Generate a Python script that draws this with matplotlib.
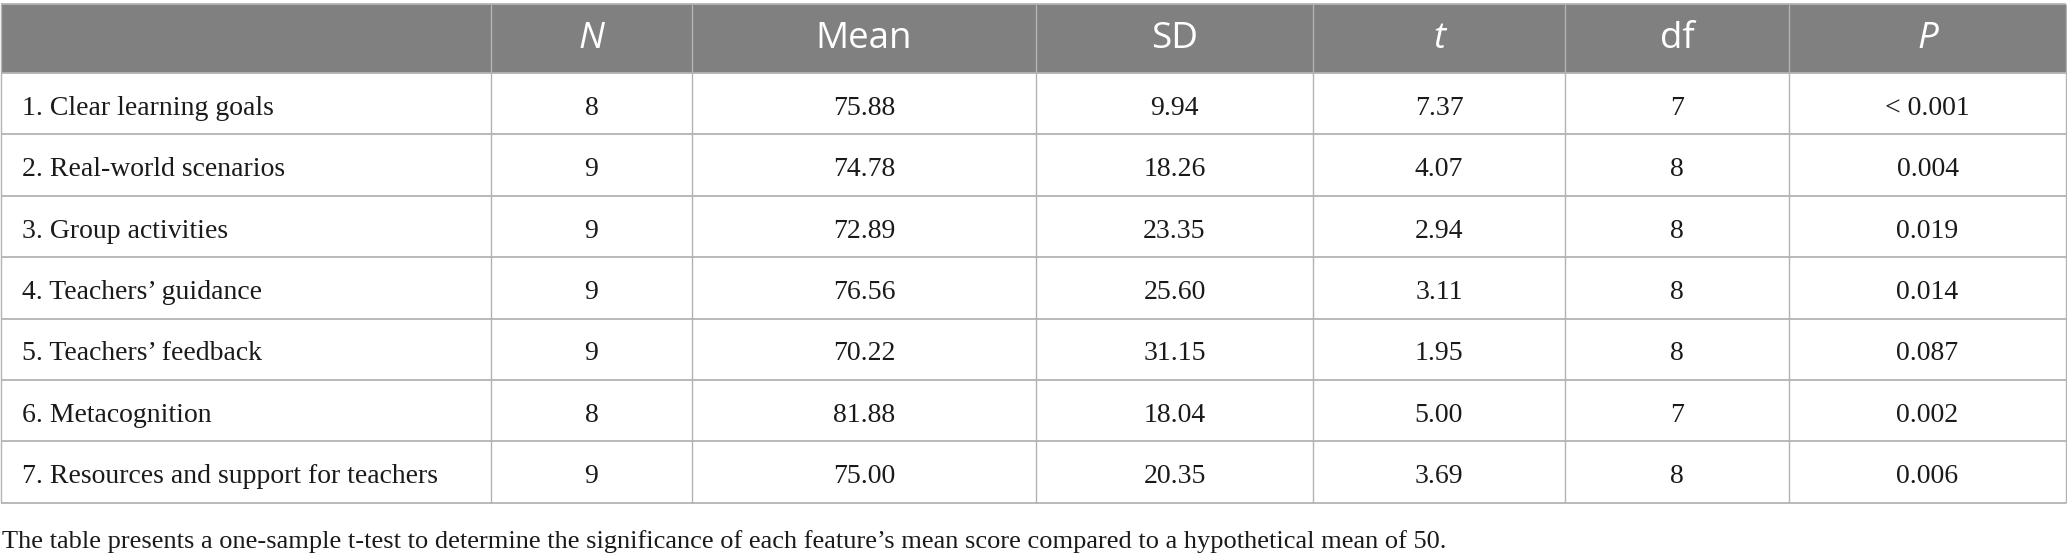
import matplotlib
matplotlib.use("Agg")
import matplotlib.pyplot as plt
from matplotlib.patches import Rectangle

# table content
headers = ["", "N", "Mean", "SD", "t", "df", "P"]
header_italic = [False, True, False, False, True, False, True]
features = [
    "1. Clear learning goals",
    "2. Real-world scenarios",
    "3. Group activities",
    "4. Teachers\u2019 guidance",
    "5. Teachers\u2019 feedback",
    "6. Metacognition",
    "7. Resources and support for teachers",
]
n_vals = [8, 9, 9, 9, 9, 8, 9]
means = [75.88, 74.78, 72.89, 76.56, 70.22, 81.88, 75.00]
sds = [9.94, 18.26, 23.35, 25.60, 31.15, 18.04, 20.35]
t_vals = [7.37, 4.07, 2.94, 3.11, 1.95, 5.00, 3.69]
dfs = [7, 8, 8, 8, 8, 7, 8]
p_vals = ["< 0.001", "0.004", "0.019", "0.014", "0.087", "0.002", "0.006"]
caption = ("The table presents a one-sample t-test to determine the significance "
           "of each feature\u2019s mean score compared to a hypothetical mean of 50.")

# layout in pixels
W, H = 2067, 555
col_edges = [1, 491, 692, 1036, 1313, 1565, 1789, 2066]
top = 4
header_h = 69
row_h = 61.4
header_bg = "#808080"
grid_c = "#b3b3b3"
body_font = "Liberation Serif"
head_font = "Open Sans"

fig = plt.figure(figsize=(W / 100, H / 100), dpi=100)
ax = fig.add_axes([0, 0, 1, 1])
ax.set_xlim(0, W)
ax.set_ylim(H, 0)
ax.axis("off")

n_rows = len(features)
row_edges = [top, top + header_h] + [top + header_h + row_h * (i + 1) for i in range(n_rows)]

# header band
ax.add_patch(Rectangle((col_edges[0], top), col_edges[-1] - col_edges[0], header_h,
                       facecolor=header_bg, edgecolor="none", zorder=1))

# grid lines
for y in row_edges:
    ax.plot([col_edges[0], col_edges[-1]], [y, y], color=grid_c, lw=1.3, zorder=3,
            solid_capstyle="butt")
for x in col_edges:
    ax.plot([x, x], [row_edges[0], row_edges[-1]], color=grid_c, lw=1.0, zorder=3,
            solid_capstyle="butt")

# header texts
hy = top + header_h / 2
for j, (h, it) in enumerate(zip(headers, header_italic)):
    if not h:
        continue
    cx = (col_edges[j] + col_edges[j + 1]) / 2
    ax.text(cx, hy, h, color="white", fontsize=26.5, family=[head_font, "DejaVu Sans"],
            style="italic" if it else "normal", ha="center", va="center", zorder=4)

# body rows
for i in range(n_rows):
    yc = (row_edges[i + 1] + row_edges[i + 2]) / 2
    yb = yc + 11
    cells = [features[i], str(n_vals[i]), f"{means[i]:.2f}", f"{sds[i]:.2f}",
             f"{t_vals[i]:.2f}", str(dfs[i]), p_vals[i]]
    for j, s in enumerate(cells):
        if j == 0:
            ax.text(col_edges[0] + 21, yb, s, fontsize=20, family=body_font,
                    ha="left", va="baseline", color="#1a1a1a", zorder=4)
        else:
            cx = (col_edges[j] + col_edges[j + 1]) / 2
            ax.text(cx, yb, s, fontsize=20, family=body_font,
                    ha="center", va="baseline", color="#1a1a1a", zorder=4)

# caption
ax.text(2, 548, caption, fontsize=19, family=body_font, ha="left", va="baseline",
        color="#1a1a1a")

fig.savefig("out.png", dpi=100)
